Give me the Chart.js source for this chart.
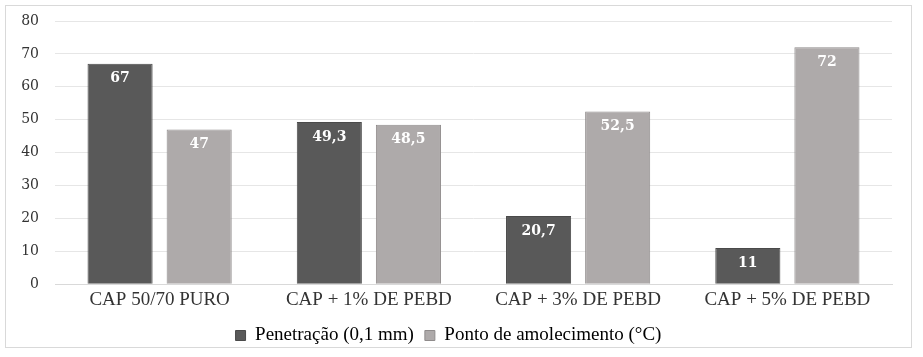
<!DOCTYPE html>
<html><head><meta charset="utf-8">
<script src="https://cdn.jsdelivr.net/npm/chart.js@4"></script>
<style>
html,body{margin:0;padding:0;background:#fff;}
#box{position:absolute;left:5px;top:5px;width:907px;height:343px;border:1px solid #d9d9d9;box-sizing:border-box;}
canvas{display:block;}
</style></head>
<body>
<div id="box"><canvas id="c"></canvas></div>
<script>
const categories = ["CAP 50/70 PURO", "CAP + 1% DE PEBD", "CAP + 3% DE PEBD", "CAP + 5% DE PEBD"];
const penetracao = [67, 49.3, 20.7, 11];
const amolecimento = [47, 48.5, 52.5, 72];
const seriesNames = ["Penetração (0,1 mm)", "Ponto de amolecimento (°C)"];
const yTicks = [0, 10, 20, 30, 40, 50, 60, 70, 80];

const valueLabels = {
  id: 'valueLabels',
  afterLayout(chart) {
    if (chart.legend) { chart.legend.left -= 8; chart.legend.right -= 8; }
  },
  afterDatasetsDraw(chart) {
    const ctx = chart.ctx;
    ctx.save();
    ctx.fillStyle = '#ffffff';
    ctx.font = 'bold 14px "DejaVu Serif"';
    ctx.textAlign = 'center';
    ctx.textBaseline = 'middle';
    chart.data.datasets.forEach((ds, i) => {
      chart.getDatasetMeta(i).data.forEach((bar, j) => {
        const txt = String(ds.data[j]).replace('.', ',');
        ctx.fillText(txt, bar.x, bar.y + 15);
      });
    });
    ctx.restore();
  }
};

new Chart(document.getElementById('c'), {
  type: 'bar',
  data: {
    labels: categories,
    datasets: [
      { label: seriesNames[0], data: penetracao, backgroundColor: '#595959', borderColor: '#4a4a4a', borderWidth: 1 },
      { label: seriesNames[1], data: amolecimento, backgroundColor: '#aeaaaa', borderColor: '#8f8b8b', borderWidth: 1 }
    ]
  },
  options: {
    responsive: true,
    maintainAspectRatio: false,
    animation: false,
    categoryPercentage: 0.756,
    barPercentage: 0.823,
    layout: { padding: { left: 15, right: 19, top: 15, bottom: -8 } },
    plugins: {
      legend: {
        position: 'bottom',
        labels: {
          boxWidth: 10, boxHeight: 10, padding: 11,
          color: '#333333',
          font: { family: '"Liberation Serif"', size: 19 },
          generateLabels(chart) {
            return chart.data.datasets.map((ds, i) => ({
              text: ds.label, fillStyle: ds.backgroundColor, strokeStyle: ds.borderColor,
              lineWidth: 1, datasetIndex: i
            }));
          }
        }
      },
      tooltip: { enabled: false }
    },
    scales: {
      x: {
        grid: { display: false, drawTicks: false },
        border: { color: '#d9d9d9' },
        ticks: { color: '#333333', font: { family: '"Liberation Serif"', size: 19 }, padding: 4 },
        afterFit(s) { s.paddingLeft = 0; s.paddingRight = 0; }
      },
      y: {
        min: 0, max: 80,
        afterBuildTicks(axis) { axis.ticks = yTicks.map(v => ({ value: v })); },
        grid: { color: '#e6e6e6', drawTicks: false },
        border: { display: false },
        ticks: { color: '#333333', font: { family: '"DejaVu Serif"', size: 14 }, padding: 16 },
        afterFit(s) { s.width = 34; s.paddingTop = 0; s.paddingBottom = 0; }
      }
    }
  },
  plugins: [valueLabels]
});
</script>
</body></html>
